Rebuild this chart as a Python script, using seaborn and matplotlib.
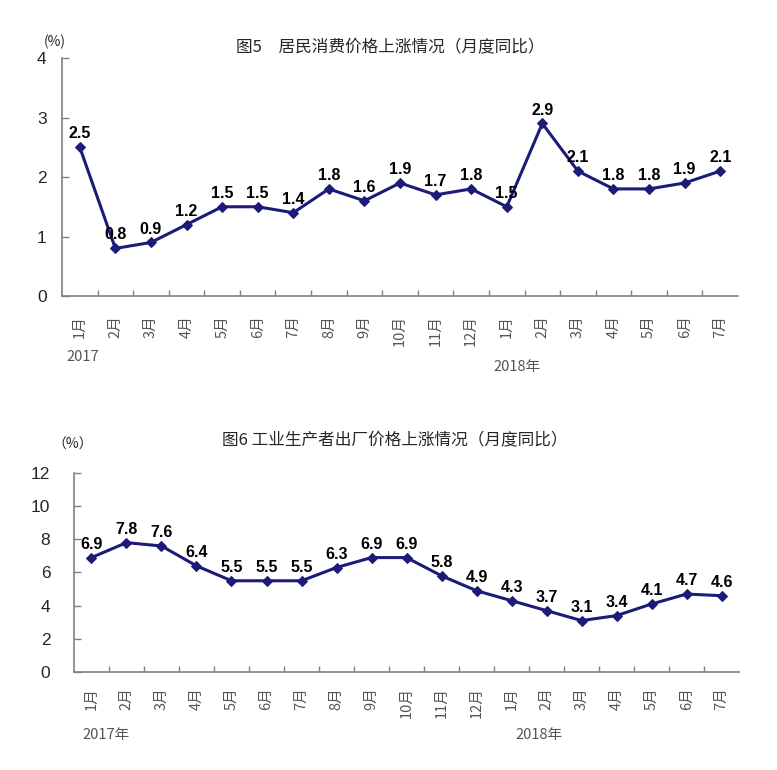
import matplotlib
matplotlib.use('Agg')
import matplotlib.pyplot as plt
import numpy as np
import pandas as pd
import seaborn as sns

sns.set_style('white')
plt.rcParams['font.family'] = ['Liberation Sans', 'Noto Sans CJK SC', 'DejaVu Sans']

# 月份标签
months = ['1月', '2月', '3月', '4月', '5月', '6月', '7月', '8月', '9月', '10月', '11月', '12月',
          '1月', '2月', '3月', '4月', '5月', '6月', '7月']
# 居民消费价格 (CPI) 同比
cpi = [2.5, 0.8, 0.9, 1.2, 1.5, 1.5, 1.4, 1.8, 1.6, 1.9, 1.7, 1.8, 1.5, 2.9, 2.1, 1.8, 1.8, 1.9, 2.1]
# 工业生产者出厂价格 (PPI) 同比
ppi = [6.9, 7.8, 7.6, 6.4, 5.5, 5.5, 5.5, 6.3, 6.9, 6.9, 5.8, 4.9, 4.3, 3.7, 3.1, 3.4, 4.1, 4.7, 4.6]

line_color = '#1c1c78'
axis_gray = '#808080'
cjk = ['Noto Sans CJK SC', 'DejaVu Sans']

fig = plt.figure(figsize=(7.77, 7.70), dpi=100)
ax1 = fig.add_axes([0.0798, 0.6156, 0.870, 0.309])
ax2 = fig.add_axes([0.0952, 0.1273, 0.856, 0.2584])


def draw(ax, values, ymax, ystep, pad, ypad, xpad):
    df = pd.DataFrame({'i': np.arange(len(values)), 'v': values})
    sns.lineplot(data=df, x='i', y='v', ax=ax, color=line_color, linewidth=2.2,
                 marker='D', markersize=5.5, markeredgecolor=line_color)
    for i, v in enumerate(values):
        ax.text(i, v + pad, f'{v:.1f}', ha='center', va='bottom',
                fontsize=11.5, fontweight='bold', color='black')
    ax.set_xlim(-0.5, len(values) - 0.5)
    ax.set_ylim(0, ymax)
    ticks = np.arange(0, ymax + 0.01, ystep)
    ax.set_yticks(ticks)
    ax.set_yticklabels([f'{t:g}' for t in ticks], fontsize=12.5)
    ax.set_xticks(range(len(values)))
    ax.set_xticklabels(months, rotation=90, fontsize=10.5, color='#555555', family=cjk)
    ax.set_xticks(np.arange(0.5, len(values) - 0.5, 1), minor=True)
    ax.tick_params(axis='x', which='major', bottom=True, length=0, pad=xpad)
    ax.tick_params(axis='x', which='minor', bottom=True, direction='in', length=4,
                   width=1, color=axis_gray)
    ax.tick_params(axis='y', left=True, direction='in', length=5, width=1,
                   color=axis_gray, pad=ypad)
    ax.set_xlabel('')
    ax.set_ylabel('')
    for s in ['top', 'right']:
        ax.spines[s].set_visible(False)
    for s in ['left', 'bottom']:
        ax.spines[s].set_color(axis_gray)
        ax.spines[s].set_linewidth(1.2)


draw(ax1, cpi, 4, 1, 0.1, 11, 14)
draw(ax2, ppi, 12, 2, 0.35, 17, 11)

# 标题与单位
fig.text(0.502, 0.938, '图5　居民消费价格上涨情况（月度同比）', ha='center', va='center',
         fontsize=12, family=cjk)
fig.text(0.07, 0.945, '(%)', ha='center', va='center', fontsize=10, family=cjk)
fig.text(0.508, 0.427, '图6 工业生产者出厂价格上涨情况（月度同比）', ha='center', va='center',
         fontsize=12, family=cjk)
fig.text(0.093, 0.422, '（%）', ha='center', va='center', fontsize=10, family=cjk)

# 年份标注
fig.text(0.106, 0.537, '2017', ha='center', va='center', fontsize=10.5, color='#555555', family=cjk)
fig.text(0.665, 0.523, '2018年', ha='center', va='center', fontsize=10.5, color='#555555', family=cjk)
fig.text(0.137, 0.045, '2017年', ha='center', va='center', fontsize=10.5, color='#555555', family=cjk)
fig.text(0.694, 0.045, '2018年', ha='center', va='center', fontsize=10.5, color='#555555', family=cjk)

fig.savefig('out.png', dpi=100)
